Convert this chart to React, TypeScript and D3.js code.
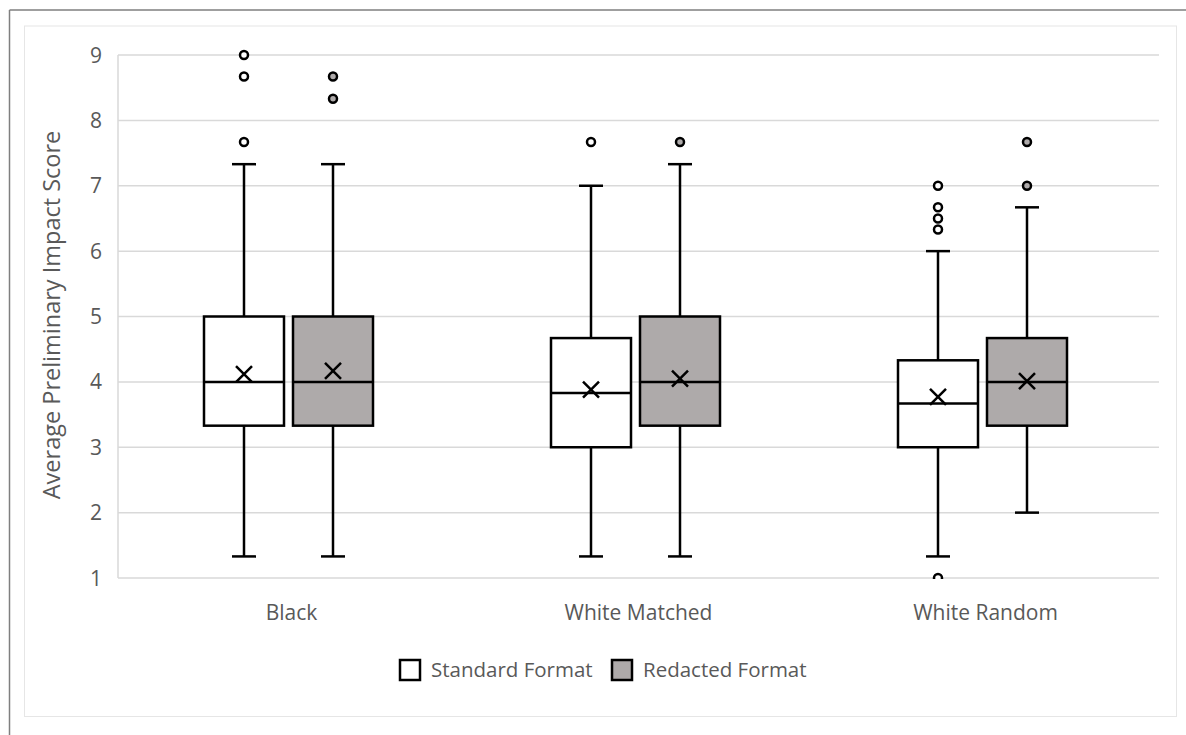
import React from "react";
import * as d3 from "d3";

const categories = ["Black", "White Matched", "White Random"];
const seriesNames = ["Standard Format", "Redacted Format"];
const seriesFill = ["#FFFFFF", "#AEAAAA"];
const yTicks = [1, 2, 3, 4, 5, 6, 7, 8, 9];

// [category][series]
const whiskerLow = [[1.33, 1.33], [1.33, 1.33], [1.33, 2.0]];
const q1 = [[3.33, 3.33], [3.0, 3.33], [3.0, 3.33]];
const median = [[4.0, 4.0], [3.83, 4.0], [3.67, 4.0]];
const q3 = [[5.0, 5.0], [4.67, 5.0], [4.33, 4.67]];
const whiskerHigh = [[7.33, 7.33], [7.0, 7.33], [6.0, 6.67]];
const mean = [[4.12, 4.17], [3.88, 4.05], [3.77, 4.01]];
const outliers = [
  [[9.0, 8.67, 7.67], [8.67, 8.33]],
  [[7.67], [7.67]],
  [[7.0, 6.67, 6.5, 6.33, 1.0], [7.67, 7.0]],
];

const W = 1186;
const H = 735;
const plot = { left: 118, right: 1159, top: 55, bottom: 578 };
const FONT = "'Open Sans', 'Noto Sans', sans-serif";
const TXT = "#595959";
const GRID = "#D9D9D9";

export default function App() {
  const y = d3.scaleLinear().domain([1, 9]).range([plot.bottom, plot.top]);
  const x = d3.scaleBand<string>().domain(categories).range([plot.left, plot.right]);
  const boxW = 80;
  const gap = 9;
  const inner = d3
    .scaleBand<string>()
    .domain(seriesNames)
    .range([0, boxW * 2 + gap])
    .paddingInner(gap / (boxW + gap));
  const pairW = boxW * 2 + gap;
  const capW = 24;
  const mk = 8;

  return (
    <svg width={W} height={H} style={{ display: "block", position: "absolute", left: 0, top: 0 }}>
      <rect x={0} y={0} width={W} height={H} fill="#fff" />
      {/* outer border */}
      <line x1={9.5} x2={W} y1={10} y2={10} stroke="#7F7F7F" strokeWidth={1.5} />
      <line x1={9.5} x2={9.5} y1={10} y2={H} stroke="#7F7F7F" strokeWidth={1.5} />
      {/* inner chart area border */}
      <rect x={24.5} y={26} width={1152} height={690.5} fill="none" stroke="#E6E6E6" strokeWidth={1} />
      <defs>
        <clipPath id="plotclip">
          <rect x={plot.left - 10} y={plot.top - 6} width={plot.right - plot.left + 20} height={plot.bottom - plot.top + 7} />
        </clipPath>
      </defs>
      {/* gridlines */}
      {yTicks.map((t) => (
        <line key={t} x1={plot.left} x2={plot.right} y1={y(t)} y2={y(t)} stroke={GRID} strokeWidth={1.5} />
      ))}
      <line x1={plot.left} x2={plot.left} y1={plot.top} y2={plot.bottom} stroke={GRID} strokeWidth={1.5} />
      {/* y tick labels */}
      {yTicks.map((t) => (
        <text key={t} x={102} y={y(t)} dy="0.36em" textAnchor="end" fontFamily={FONT} fontSize={21} fill={TXT}>
          {t}
        </text>
      ))}
      {/* y axis title */}
      <text
        transform={`translate(60, ${(132 + 498) / 2}) rotate(-90)`}
        textAnchor="middle"
        fontFamily={FONT}
        fontSize={23.5}
        fill={TXT}
      >
        Average Preliminary Impact Score
      </text>
      {/* category labels */}
      {categories.map((c) => (
        <text key={c} x={(x(c) as number) + x.bandwidth() / 2} y={620} textAnchor="middle" fontFamily={FONT} fontSize={21} fill={TXT}>
          {c}
        </text>
      ))}
      {/* boxes */}
      <g clipPath="url(#plotclip)">
        {categories.map((c, ci) => {
          const pairLeft = (x(c) as number) + x.bandwidth() / 2 - pairW / 2 - 3;
          return seriesNames.map((s, si) => {
            const bx = pairLeft + (inner(s) as number);
            const cx = bx + inner.bandwidth() / 2;
            return (
              <g key={c + s}>
                <line x1={cx} x2={cx} y1={y(whiskerHigh[ci][si])} y2={y(q3[ci][si])} stroke="#000" strokeWidth={2.5} />
                <line x1={cx} x2={cx} y1={y(q1[ci][si])} y2={y(whiskerLow[ci][si])} stroke="#000" strokeWidth={2.5} />
                <line x1={cx - capW / 2} x2={cx + capW / 2} y1={y(whiskerHigh[ci][si])} y2={y(whiskerHigh[ci][si])} stroke="#000" strokeWidth={2.5} />
                <line x1={cx - capW / 2} x2={cx + capW / 2} y1={y(whiskerLow[ci][si])} y2={y(whiskerLow[ci][si])} stroke="#000" strokeWidth={2.5} />
                <rect
                  x={bx}
                  y={y(q3[ci][si])}
                  width={inner.bandwidth()}
                  height={y(q1[ci][si]) - y(q3[ci][si])}
                  fill={seriesFill[si]}
                  stroke="#000"
                  strokeWidth={2.5}
                />
                <line x1={bx} x2={bx + inner.bandwidth()} y1={y(median[ci][si])} y2={y(median[ci][si])} stroke="#000" strokeWidth={2.5} />
                <path
                  d={`M${cx - mk},${y(mean[ci][si]) - mk}L${cx + mk},${y(mean[ci][si]) + mk}M${cx - mk},${y(mean[ci][si]) + mk}L${cx + mk},${y(mean[ci][si]) - mk}`}
                  stroke="#000"
                  strokeWidth={2.5}
                  fill="none"
                />
                {outliers[ci][si].map((v, k) => (
                  <circle key={k} cx={cx} cy={y(v)} r={4} fill={seriesFill[si]} stroke="#000" strokeWidth={2.5} />
                ))}
              </g>
            );
          });
        })}
      </g>
      {/* legend */}
      {seriesNames.map((s, i) => {
        const lx = i === 0 ? 400 : 612;
        return (
          <g key={s}>
            <rect x={lx} y={660} width={20} height={20} fill={seriesFill[i]} stroke="#000" strokeWidth={2.5} />
            <text x={lx + 31} y={670} dy="0.36em" fontFamily={FONT} fontSize={20.5} fill={TXT}>
              {s}
            </text>
          </g>
        );
      })}
    </svg>
  );
}
